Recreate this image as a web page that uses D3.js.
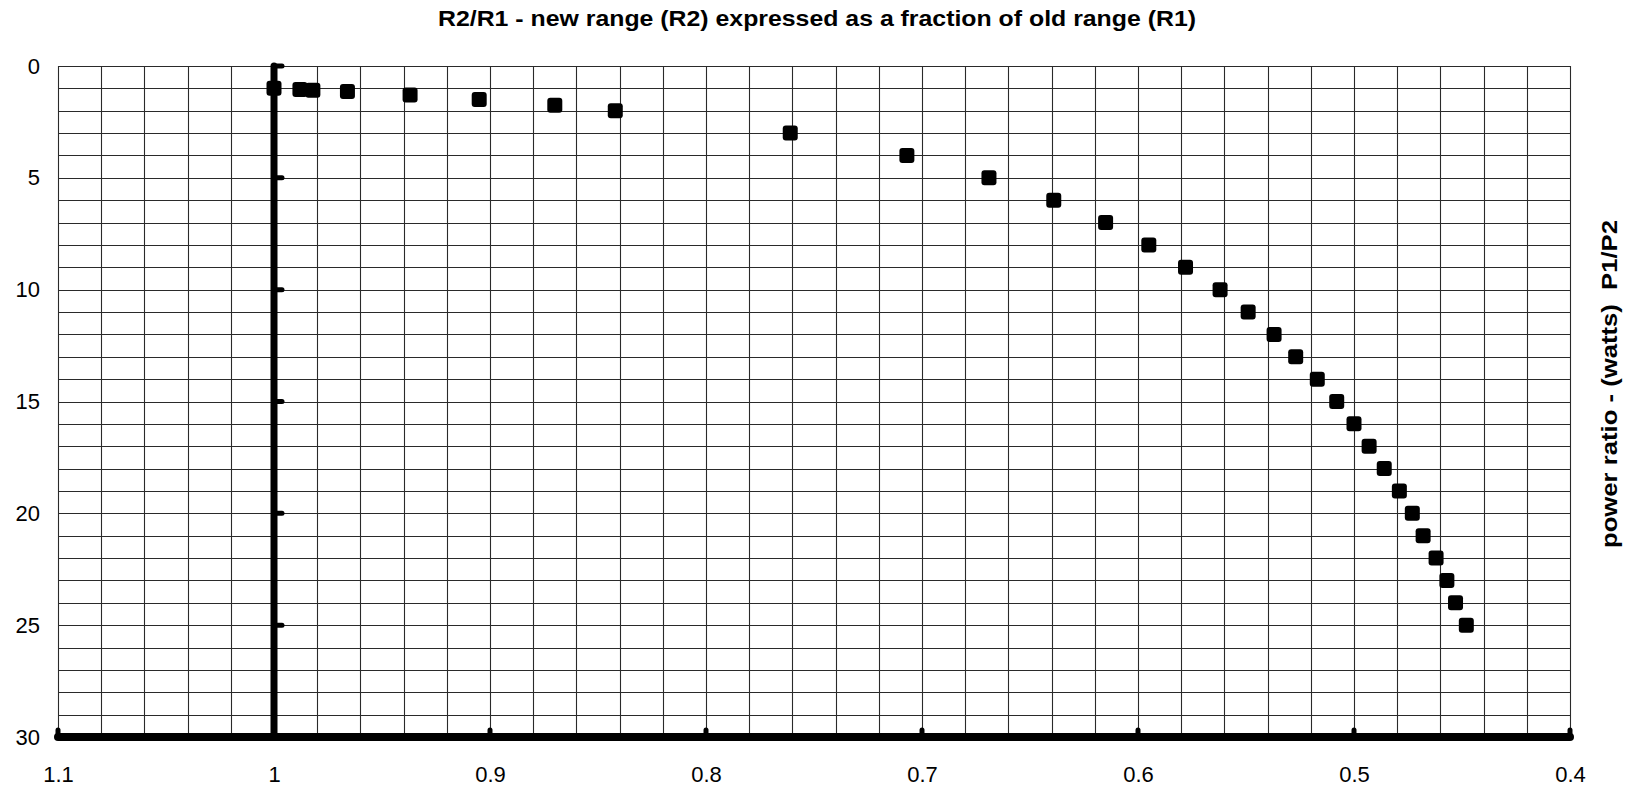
<!DOCTYPE html>
<html>
<head>
<meta charset="utf-8">
<script src="https://cdn.jsdelivr.net/npm/d3@7"></script>
<style>
  html, body { margin: 0; padding: 0; background: #fff; }
  svg { display: block; }
  text { font-family: "Liberation Sans", Arial, Helvetica, sans-serif; fill: #000; }
</style>
</head>
<body>
<svg id="chart" width="1631" height="791"></svg>
<script>
// ---- data ----
const powerRatio = [1, 1.05, 1.08, 1.14, 1.3, 1.5, 1.75, 2, 3, 4, 5, 6, 7, 8, 9, 10, 11, 12, 13, 14, 15, 16, 17, 18, 19, 20, 21, 22, 23, 24, 25];
const rangeRatio = [1.0, 0.988, 0.982, 0.966, 0.937, 0.905, 0.870, 0.842, 0.761, 0.707, 0.669, 0.639, 0.615, 0.595, 0.578, 0.562, 0.549, 0.537, 0.527, 0.517, 0.508, 0.500, 0.493, 0.486, 0.479, 0.473, 0.468, 0.462, 0.457, 0.453, 0.448];
const xTicks = [1.1, 1.0, 0.9, 0.8, 0.7, 0.6, 0.5, 0.4];
const xTickLabels = ["1.1", "1", "0.9", "0.8", "0.7", "0.6", "0.5", "0.4"];
const yTicks = [0, 5, 10, 15, 20, 25, 30];
const yTickLabels = ["0", "5", "10", "15", "20", "25", "30"];
const xGridStep = 0.02;
const yGridStep = 1;
const titleText = "R2/R1 - new range (R2) expressed as a fraction of old range (R1)";
const yTitleText = "power ratio - (watts)  P1/P2";

// ---- scales ----
const svg = d3.select("#chart");
const x = d3.scaleLinear().domain([1.1, 0.4]).range([58, 1570]);
const y = d3.scaleLinear().domain([0, 30]).range([66, 737]);

// ---- grid ----
const nX = Math.round((1.1 - 0.4) / xGridStep);
const xGrid = d3.range(nX + 1).map(i => 1.1 - i * xGridStep);
const nY = Math.round(30 / yGridStep);
const yGrid = d3.range(nY + 1).map(i => i * yGridStep);

const grid = svg.append("g").attr("stroke", "#2a2a2a").attr("stroke-width", 1.1);
grid.selectAll("line.v").data(xGrid).join("line")
  .attr("class", "v")
  .attr("x1", d => Math.round(x(d)) + 0.5).attr("x2", d => Math.round(x(d)) + 0.5)
  .attr("y1", y(0)).attr("y2", y(30));
grid.selectAll("line.h").data(yGrid).join("line")
  .attr("class", "h")
  .attr("x1", x(1.1)).attr("x2", x(0.4))
  .attr("y1", d => Math.round(y(d)) + 0.5).attr("y2", d => Math.round(y(d)) + 0.5);

// ---- thick axes ----
const axes = svg.append("g").attr("stroke", "#000").attr("stroke-linecap", "round");
axes.append("line")
  .attr("x1", x(1.0)).attr("x2", x(1.0))
  .attr("y1", y(0)).attr("y2", y(30))
  .attr("stroke-width", 7);
axes.append("line")
  .attr("x1", x(1.1)).attr("x2", x(0.4))
  .attr("y1", y(30)).attr("y2", y(30))
  .attr("stroke-width", 8);
// tick bumps on vertical axis (to the right)
axes.selectAll("line.yt").data(yTicks.filter(d => d < 30)).join("line")
  .attr("class", "yt")
  .attr("x1", x(1.0)).attr("x2", x(1.0) + 8)
  .attr("y1", d => y(d)).attr("y2", d => y(d))
  .attr("stroke-width", 5);
// tick bumps on horizontal axis (upwards)
axes.selectAll("line.xt").data(xTicks).join("line")
  .attr("class", "xt")
  .attr("x1", d => x(d)).attr("x2", d => x(d))
  .attr("y1", y(30)).attr("y2", y(30) - 7)
  .attr("stroke-width", 5);

// ---- tick labels via d3 axes ----
const xAxis = d3.axisBottom(x).tickValues(xTicks).tickSize(0).tickPadding(0)
  .tickFormat((d, i) => xTickLabels[i]);
const gx = svg.append("g").attr("transform", "translate(0,766)").call(xAxis);
gx.select(".domain").remove();
gx.selectAll("text").style("font-size", "22px").attr("fill", "#000");

const yAxis = d3.axisLeft(y).tickValues(yTicks).tickSize(0).tickPadding(0)
  .tickFormat((d, i) => yTickLabels[i]);
const gy = svg.append("g").attr("transform", "translate(40,0)").call(yAxis);
gy.select(".domain").remove();
gy.selectAll("text").style("font-size", "22px").attr("fill", "#000");

// ---- markers ----
const ms = 15;
svg.append("g").selectAll("rect").data(rangeRatio.map((r, i) => ({ r, p: powerRatio[i] }))).join("rect")
  .attr("x", d => x(d.r) - ms / 2)
  .attr("y", d => y(d.p) - ms / 2)
  .attr("width", ms).attr("height", ms)
  .attr("rx", 3).attr("ry", 3)
  .attr("fill", "#000");

// ---- titles ----
svg.append("text")
  .attr("x", 438).attr("y", 26)
  .attr("textLength", 758).attr("lengthAdjust", "spacingAndGlyphs")
  .style("font-size", "22px").style("font-weight", "bold")
  .text(titleText);

svg.append("text")
  .attr("transform", "translate(1617,384) rotate(-90)")
  .attr("text-anchor", "middle")
  .attr("textLength", 328).attr("lengthAdjust", "spacingAndGlyphs")
  .style("font-size", "22px").style("font-weight", "bold")
  .style("white-space", "pre")
  .text(yTitleText);
</script>
</body>
</html>
